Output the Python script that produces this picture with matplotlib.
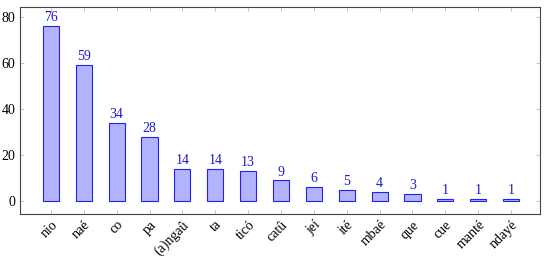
import matplotlib
matplotlib.use("Agg")
import matplotlib.pyplot as plt

categories = ["nio", "naé", "co", "pa", "(a)ngaû", "ta", "ticó", "catû", "jeí", "ité", "mbaé", "que", "cue", "manté", "ndayé"]
values = [76, 59, 34, 28, 14, 14, 13, 9, 6, 5, 4, 3, 1, 1, 1]

plt.rcParams['font.family'] = ['Liberation Serif', 'DejaVu Serif']

fig = plt.figure(figsize=(5.5, 2.61), dpi=100)
ax = fig.add_axes([20/550, 1-214/261, 520/550, 207/261])

x = list(range(len(categories)))
bars = ax.bar(x, values, width=0.49, color='#B3B3FF', edgecolor='#2222EE', linewidth=0.8)
for xi, v in zip(x, values):
    ax.text(xi, v + 0.8, str(v), ha='center', va='bottom', color='#1a1acc', fontsize=10)

ax.set_xlim(-0.94, 14.88)
ax.set_ylim(-5.6, 84.3)
ax.set_yticks([0, 20, 40, 60, 80])
ax.set_xticks(x)
ax.set_xticklabels(categories, rotation=45, ha='right', rotation_mode='anchor', fontsize=10)
ax.tick_params(axis='both', direction='in', length=3, width=0.5, color='#aaaaaa', top=True, right=True, labelsize=10)
ax.tick_params(axis='x', pad=3)
for s in ax.spines.values():
    s.set_color('#444444')
    s.set_linewidth(0.8)

fig.savefig("out.png", dpi=100)
